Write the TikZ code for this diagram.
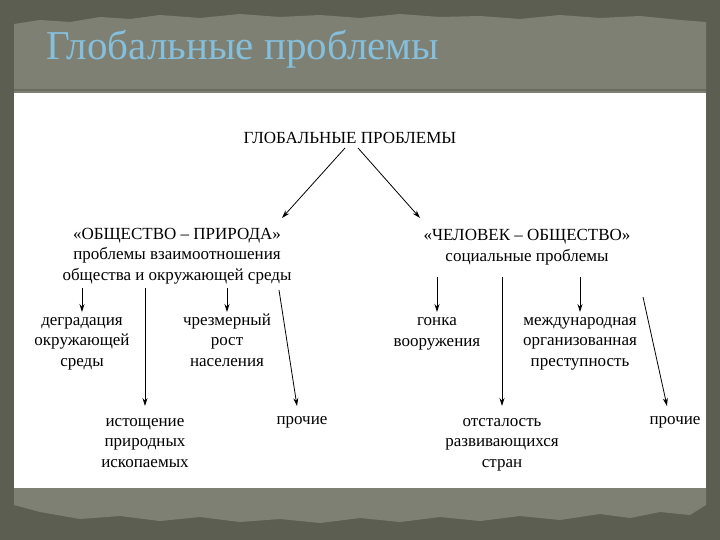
\documentclass[tikz,border=0pt]{standalone}
\usepackage{fontspec}
\setmainfont{Liberation Serif}
\usetikzlibrary{positioning,arrows.meta}
\definecolor{bgdark}{HTML}{5B5E50}
\definecolor{paper}{HTML}{7D8073}
\definecolor{paperline}{HTML}{686B5E}
\definecolor{titleblue}{HTML}{86BFDC}
\tikzset{
  item/.style={align=center,inner sep=0pt,anchor=base,
    font=\fontsize{17}{20.5}\selectfont},
  arr/.style={-{Stealth[length=8pt,width=5pt]},line width=0.8pt}
}
\begin{document}
\begin{tikzpicture}[x=1pt,y=-1pt]
    \useasboundingbox (0,0) rectangle (720,540);
    % background and torn paper
    \fill[bgdark] (0,0) rectangle (720,540);
    \fill[paper] (14,24)--(40,20)--(70,22)--(100,17)--(130,19)--(160,15)--(200,18)
        --(240,14)--(280,17)--(320,15)--(360,18)--(400,14)--(440,17)--(480,16)
        --(520,19)--(560,15)--(600,18)--(640,16)--(680,20)--(706,22)
        --(706,505)--(690,515)--(660,512)--(630,518)--(600,514)--(560,520)
        --(520,516)--(480,521)--(440,517)--(400,522)--(360,518)--(320,523)
        --(280,519)--(240,522)--(200,517)--(160,521)--(120,516)--(80,519)
        --(40,512)--(14,505)--cycle;
    \draw[paperline,line width=1.5pt] (14,90) -- (706,90);
    \fill[white] (14,93) rectangle (706,488);
    \node[anchor=base west,inner sep=0pt,text=titleblue,
        font=\fontsize{41}{44}\selectfont] (title) at (46,60) {Глобальные проблемы};

    % diagram (base = baseline of the last line)
    \node[item] (glob) at (350,143.5) {ГЛОБАЛЬНЫЕ ПРОБЛЕМЫ};
    \node[item] (nat) at (177,280) {«ОБЩЕСТВО – ПРИРОДА»\\проблемы взаимоотношения\\общества и окружающей среды};
    \node[item] (soc) at (527,261) {«ЧЕЛОВЕК – ОБЩЕСТВО»\\социальные проблемы};
    \node[item] (deg) at (82,366) {деградация\\окружающей\\среды};
    \node[item] (ist) at (145,467) {истощение\\природных\\ископаемых};
    \node[item] (rost) at (227,366) {чрезмерный\\рост\\населения};
    \node[item] (pro1) at (302,424) {прочие};
    \node[item] (gon) at (437,346) {гонка\\вооружения};
    \node[item] (ots) at (502,467) {отсталость\\развивающихся\\стран};
    \node[item] (crime) at (580,366) {международная\\организованная\\преступность};
    \node[item] (pro2) at (675,424) {прочие};

    \coordinate (gl) at (345,148);
    \coordinate (gr) at (358,148);
    \coordinate (nl) at (282,218);
    \coordinate (nr) at (420,218);
    \coordinate (natfoot) at (0,288);
    \coordinate (socfoot) at (0,277);
    \coordinate (pro1top) at (279,290);
    \coordinate (pro1tip) at (297,406);
    \coordinate (pro2top) at (643,297);
    \coordinate (pro2tip) at (667,406);

    \draw[arr] (gl) -- (nl);
    \draw[arr] (gr) -- (nr);
    \draw[arr] (deg |- natfoot) -- (deg.north |- 0,312);
    \draw[arr] (ist |- natfoot) -- (ist.north |- 0,406);
    \draw[arr] (rost |- natfoot) -- (rost.north |- 0,312);
    \draw[arr] (pro1top) -- (pro1tip);
    \draw[arr] (gon |- socfoot) -- (gon.north |- 0,312);
    \draw[arr] (ots |- socfoot) -- (ots.north |- 0,406);
    \draw[arr] (crime |- socfoot) -- (crime.north |- 0,312);
    \draw[arr] (pro2top) -- (pro2tip);
\end{tikzpicture}
\end{document}
